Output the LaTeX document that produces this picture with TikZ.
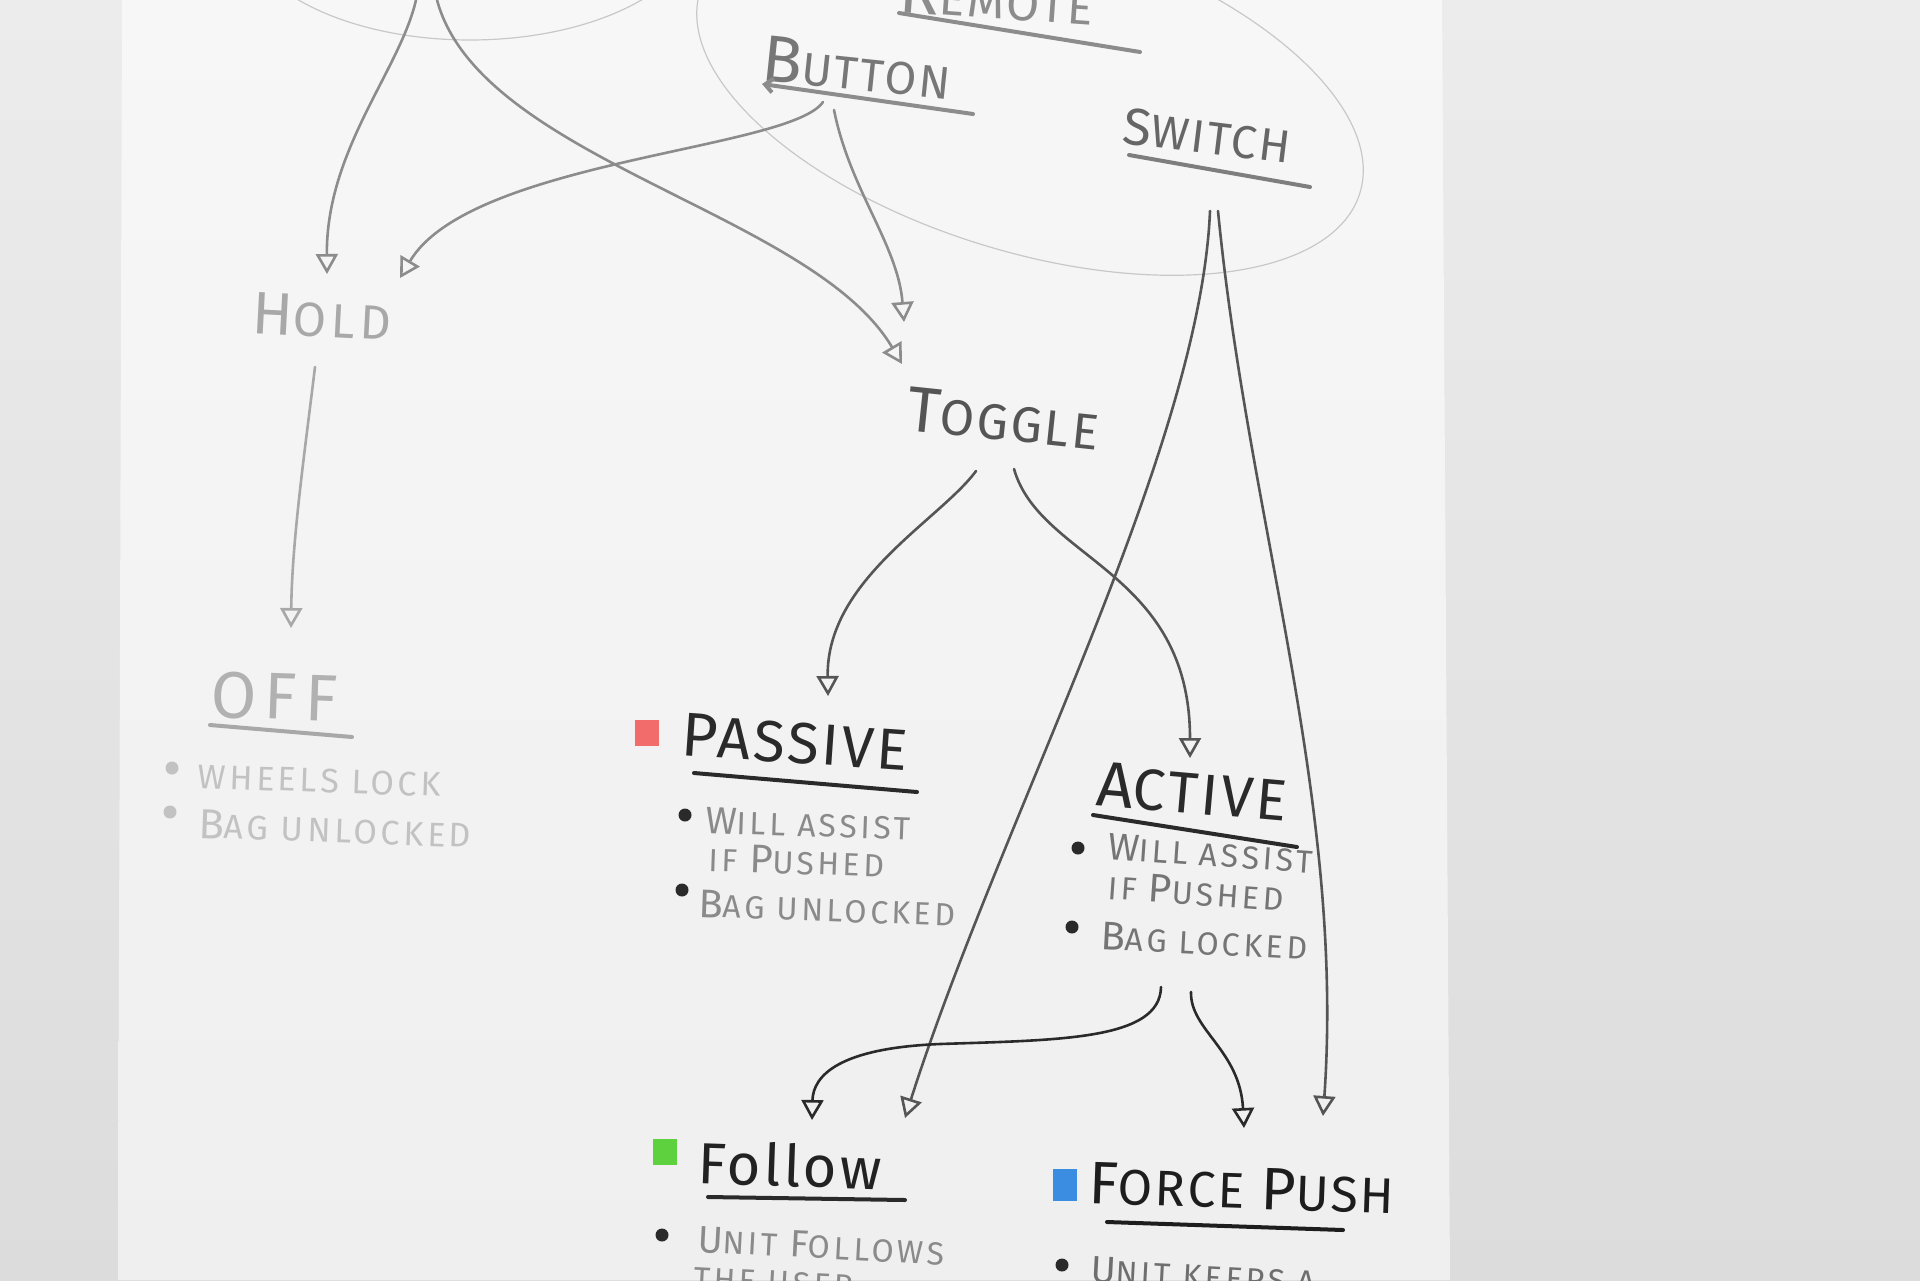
\documentclass[tikz,border=0pt]{standalone}
\usepackage{fontspec}
\setmainfont{Fira Sans}[LetterSpace=5]
\newfontfamily\bulfont{Fira Sans}[LetterSpace=11]
\newfontfamily\widefont{Fira Sans}[LetterSpace=12]
\usetikzlibrary{arrows.meta}
\definecolor{outA}{HTML}{ECECEC}
\definecolor{outB}{HTML}{DCDCDC}
\definecolor{paperA}{HTML}{F7F7F7}
\definecolor{paperB}{HTML}{EFEFEF}
\definecolor{ellc}{HTML}{C8C8C8}
\definecolor{topg}{HTML}{8C8C8C}
\definecolor{blurg}{HTML}{A8A8A8}
\definecolor{midg}{HTML}{555555}
\definecolor{dark}{HTML}{2A2A2A}
\definecolor{bulg}{HTML}{8A8A8A}
\definecolor{swred}{HTML}{F26C6C}
\definecolor{swgreen}{HTML}{5ED23E}
\definecolor{swblue}{HTML}{3A8DE0}
\newcommand\hw[4]{{\fontsize{#1}{#1}\selectfont #2}{\fontsize{#3}{#3}\selectfont #4}}
\tikzset{
  lab/.style={inner sep=0pt, anchor=base west},
  bul/.style={inner sep=0pt, anchor=base west, font=\bulfont},
  conn/.style={line width=1.3pt, line cap=round, -{Triangle[open, length=10pt, width=11pt, line width=1.3pt]}},
  uline/.style={line width=2pt, line cap=round},
  dotn/.style={circle, fill=#1, inner sep=0pt, minimum size=6.5pt},
  swatch/.style={fill=#1, inner sep=0pt, minimum width=12pt, minimum height=13pt},
}
\begin{document}
\begin{tikzpicture}[x=0.5pt,y=-0.5pt]
\useasboundingbox (0,0) rectangle (1920,1280);
\clip (0,0) rectangle (1920,1280);
% background and paper
\shade[top color=outA, bottom color=outB] (0,0) rectangle (1920,1280);
\shade[top color=paperA, bottom color=paperB] (122,0) -- (1442,0) -- (1450,1280) -- (118,1280) -- cycle;
% ellipses
\draw[ellc, line width=0.6pt] (470,-80) ellipse [x radius=230, y radius=120];
\draw[ellc, line width=0.6pt, rotate around={-17:(1030,92)}] (1030,92) ellipse [x radius=345, y radius=160];

% ---- top group
\node[lab, rotate=-4, text=topg] (remote) at (898,12) {\hw{33}{R}{24}{EMOTE}};
\draw[uline, topg] (899,13) -- (1140,52);
\node[lab, rotate=-6, text=topg!85!black] (button) at (760,80) {\hw{33}{B}{23}{UTTON}};
\draw[uline, topg, {Straight Barb[length=4pt,width=7pt]}-] (762,84) -- (973,114);
\node[lab, rotate=-7, text=midg!90] (switch) at (1121,143) {\hw{26}{S}{23}{WITCH}};
\draw[uline, topg!90!black] (1129,155) -- (1310,187);

\node[lab, rotate=-3, text=blurg, font=\bulfont] (hold) at (251,333) {\hw{30}{H}{24}{OLD}};
\node[lab, rotate=-6, text=midg] (toggle) at (905,430) {\hw{32}{T}{25}{OGGLE}};

% ---- OFF
\node[lab, rotate=-2, text=blurg!90, font=\widefont] (off) at (210,717) {\fontsize{33}{33}\selectfont OFF};
\draw[uline, blurg] (210,725) -- (352,737);
\node[dotn=blurg!70] (offd1) at (172,768) {};
\node[bul, rotate=-2, text=blurg!70] (offb1) at (197,788) {\fontsize{17}{17}\selectfont WHEELS LOCK};
\node[dotn=blurg!70] (offd2) at (170,812) {};
\node[bul, rotate=-2, text=blurg!70] (offb2) at (198,838) {\hw{21}{B}{17}{AG UNLOCKED}};

% ---- PASSIVE
\node[swatch=swred] (pasq) at (647,733) {};
\node[lab, rotate=-4, text=dark] (passive) at (680,755) {\hw{31}{P}{29}{ASSIVE}};
\draw[uline, dark] (694,773) -- (917,792);
\node[dotn=dark] (pasd1) at (685,815) {};
\node[bul, rotate=-2, text=bulg] (pasb1) at (705,833) {\hw{19}{W}{16}{ILL ASSIST}};
\node[bul, rotate=-2, text=bulg] (pasb1b) at (708,871) {\fontsize{16}{16}\selectfont IF \hw{20}{P}{16}{USHED}};
\node[dotn=dark] (pasd2) at (682,890) {};
\node[bul, rotate=-2, text=bulg] (pasb2) at (698,917) {\hw{20}{B}{16}{AG UNLOCKED}};

% ---- ACTIVE
\node[lab, rotate=-5, text=dark] (active) at (1095,805) {\hw{32}{A}{29}{CTIVE}};
\draw[uline, dark] (1093,815) -- (1297,847);
\node[dotn=dark] (actd1) at (1078,848) {};
\node[bul, rotate=-4, text=bulg!85!black] (actb1) at (1107,859) {\hw{19}{W}{16}{ILL ASSIST}};
\node[bul, rotate=-4, text=bulg!85!black] (actb1b) at (1107,899) {\fontsize{16}{16}\selectfont IF \hw{20}{P}{16}{USHED}};
\node[dotn=dark] (actd2) at (1072,927) {};
\node[bul, rotate=-3, text=bulg!85!black] (actb2) at (1100,949) {\hw{20}{B}{16}{AG LOCKED}};

% ---- FOLLOW
\node[swatch=swgreen] (folq) at (665,1152) {};
\node[lab, rotate=-2, text=dark!80!black] (follow) at (697,1183) {\fontsize{29}{29}\selectfont Follow};
\draw[uline, dark] (708,1197) -- (905,1200);
\node[dotn=dark] (fold1) at (662,1235) {};
\node[bul, rotate=-3, text=bulg] (folb1) at (697,1252) {\hw{19}{U}{16}{NIT }\hw{19}{F}{16}{OLLOWS}};
\node[bul, rotate=-3, text=bulg] (folb1b) at (693,1289) {\fontsize{16}{16}\selectfont THE USER};

% ---- FORCE PUSH
\node[swatch=swblue, minimum height=16pt] (forq) at (1065,1185) {};
\node[lab, rotate=-2, text=dark!70!black] (force) at (1088,1203) {\hw{30}{F}{25}{ORCE }\hw{30}{P}{25}{USH}};
\draw[uline, dark!70!black] (1107,1222) -- (1343,1230);
\node[dotn=dark] (ford1) at (1062,1265) {};
\node[bul, rotate=-3, text=bulg!80!black] (forb1) at (1090,1282) {\hw{19}{U}{16}{NIT KEEPS A}};

% ---- connector end points
\coordinate (a1s) at (416,0);    \coordinate (a1e) at (327,274);
\coordinate (a2s) at (437,0);    \coordinate (a2e) at (902,364);
\coordinate (a3s) at (823,102);  \coordinate (a3e) at (400,278);
\coordinate (a4s) at (834,110);  \coordinate (a4e) at (904,322);
\coordinate (a5s) at (976,471);  \coordinate (a5e) at (828,696);
\coordinate (a6s) at (1014,469); \coordinate (a6e) at (1190,758);
\coordinate (a7s) at (1210,211); \coordinate (a7e) at (905,1118);
\coordinate (a8s) at (1218,211); \coordinate (a8e) at (1323,1116);
\coordinate (a9s) at (1161,987); \coordinate (a9m) at (940,1044); \coordinate (a9e) at (812,1120);
\coordinate (a10s) at (1191,992); \coordinate (a10e) at (1244,1128);
\coordinate (a11s) at (315,367); \coordinate (a11e) at (291,628);

% ---- connectors
\draw[conn, topg] (a1s) .. controls (400,70) and (326,150) .. (a1e);
\draw[conn, topg] (a2s) .. controls (480,160) and (812,212) .. (a2e);
\draw[conn, topg] (a3s) .. controls (790,150) and (470,160) .. (a3e);
\draw[conn, topg] (a4s) .. controls (850,190) and (898,245) .. (a4e);
\draw[conn, blurg] (a11s) .. controls (305,450) and (292,540) .. (a11e);
\draw[conn, midg] (a5s) .. controls (940,520) and (826,580) .. (a5e);
\draw[conn, midg] (a6s) .. controls (1040,560) and (1190,570) .. (a6e);
\draw[conn, midg] (a7s) .. controls (1200,450) and (1000,820) .. (a7e);
\draw[conn, midg] (a8s) .. controls (1248,520) and (1345,800) .. (a8e);
\draw[conn, dark] (a9s) .. controls (1160,1040) and (1060,1040) .. (a9m) .. controls (840,1048) and (813,1075) .. (a9e);
\draw[conn, dark] (a10s) .. controls (1190,1030) and (1240,1050) .. (a10e);
\end{tikzpicture}
\end{document}
